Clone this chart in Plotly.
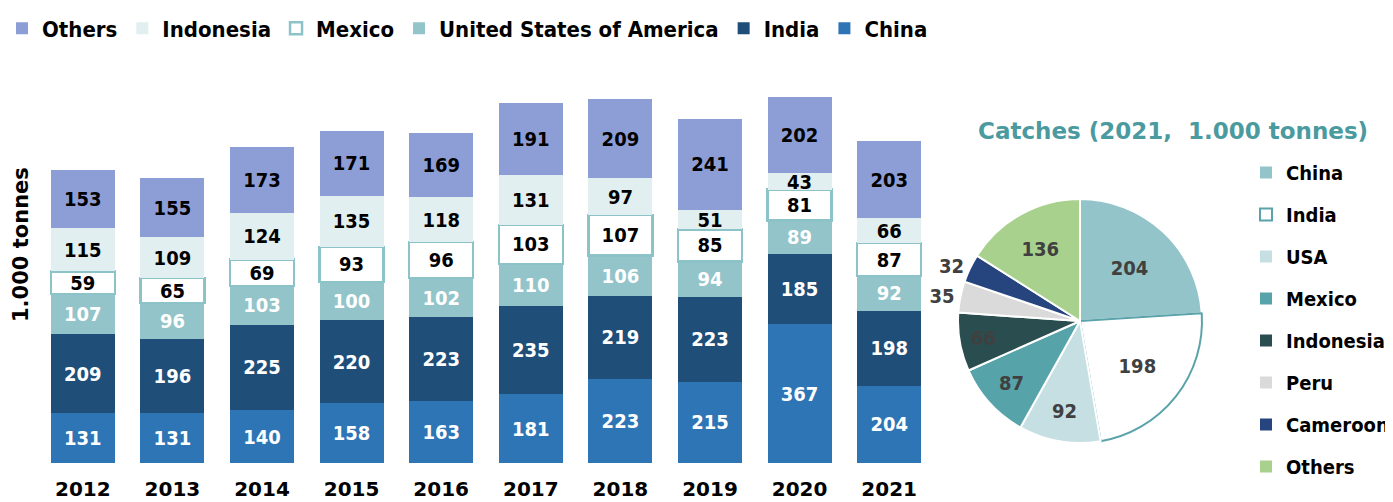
import plotly.graph_objects as go

years = ["2012", "2013", "2014", "2015", "2016", "2017", "2018", "2019", "2020", "2021"]
china = [131, 131, 140, 158, 163, 181, 223, 215, 367, 204]
india = [209, 196, 225, 220, 223, 235, 219, 223, 185, 198]
usa = [107, 96, 103, 100, 102, 110, 106, 94, 89, 92]
mexico = [59, 65, 69, 93, 96, 103, 107, 85, 81, 87]
indonesia = [115, 109, 124, 135, 118, 131, 97, 51, 43, 66]
others = [153, 155, 173, 171, 169, 191, 209, 241, 202, 203]

pie_labels = ["China", "India", "USA", "Mexico", "Indonesia", "Peru", "Cameroon", "Others"]
pie_values = [204, 198, 92, 87, 66, 35, 32, 136]

CFONT = "DejaVu Sans Condensed, DejaVu Sans"
FONT = "DejaVu Sans"

# page body offsets the figure by 8px; work in reference pixel coordinates
OFF = 8
W, H = 1393 - OFF, 502 - OFF


def px(x):
    return (x - OFF) / W


def py(y):
    return 1 - (y - OFF) / H


bar_series = [
    ("China", china, "#2E75B6", "white", None),
    ("India", india, "#1F4E79", "white", None),
    ("United States of America", usa, "#93C4C9", "white", None),
    ("Mexico", mexico, "white", "black", "#8CC3C8"),
    ("Indonesia", indonesia, "#E2EFF0", "black", None),
    ("Others", others, "#8D9ED6", "black", None),
]

fig = go.Figure()
for name, vals, col, tcol, lcol in bar_series:
    fig.add_trace(go.Bar(
        x=years, y=vals, name=name,
        marker=dict(color=col, line=dict(color=lcol if lcol else col, width=2.5 if lcol else 0)),
        text=[str(v) for v in vals], textposition="inside", insidetextanchor="middle",
        textangle=0, constraintext="none",
        textfont=dict(color=tcol, size=20, family=CFONT, weight="bold"),
        legend="legend",
    ))

pie_colors = ["#93C4C9", "white", "#C5DFE2", "#57A3AA", "#2A4D50", "#DADADA", "#26457F", "#A9D18E"]
pie_line_colors = ["white", "#5BA3AB", "white", "white", "white", "white", "white", "white"]
pie_textpos = ["inside", "inside", "inside", "inside", "inside", "outside", "outside", "inside"]

fig.add_trace(go.Pie(
    labels=pie_labels, values=pie_values, sort=False, direction="clockwise", rotation=0,
    marker=dict(colors=pie_colors, line=dict(color=pie_line_colors, width=2)),
    textinfo="value", textposition=pie_textpos, insidetextorientation="horizontal",
    textfont=dict(color="#404040", size=20, family=CFONT, weight="bold"),
    outsidetextfont=dict(color="#404040", size=20, family=CFONT, weight="bold"),
    domain=dict(x=[px(958), px(1202)], y=[py(443), py(199)]),
    showlegend=False,
))

# legend entries for the pie (spaced like the reference)
for lab, col, lcol in zip(pie_labels, pie_colors, pie_line_colors):
    fig.add_trace(go.Scatter(
        x=[None], y=[None], mode="markers", name=lab, legendgroup=lab,
        marker=dict(symbol="square", size=12, color=col,
                    line=dict(color=lcol if lcol != "white" else col, width=2 if lcol != "white" else 0)),
        legend="legend2", showlegend=True, hoverinfo="skip",
    ))

fig.update_layout(
    width=W, height=H,
    margin=dict(l=0, r=0, t=0, b=0, autoexpand=False),
    paper_bgcolor="white", plot_bgcolor="white",
    barmode="stack", bargap=0.286,
    uniformtext=dict(minsize=20, mode="show"),
    font=dict(family=CFONT, color="black"),
    xaxis=dict(domain=[px(38), px(934)], showgrid=False, showline=False, zeroline=False,
               ticks="outside", ticklen=8, tickcolor="rgba(0,0,0,0)",
               tickfont=dict(size=20, family=FONT, color="black", weight="bold")),
    yaxis=dict(domain=[py(463), py(463 - 378.6)], range=[0, 1000], showgrid=False, showline=False,
               zeroline=False, showticklabels=False, ticks=""),
    legend=dict(orientation="h", x=px(2), y=1.001, xanchor="left", yanchor="top",
                traceorder="reversed",
                font=dict(size=22, family=CFONT, color="black", weight="bold"),
                bgcolor="rgba(0,0,0,0)"),
    legend2=dict(orientation="v", x=px(1246), y=py(153), xanchor="left", yanchor="top",
                 font=dict(size=20, family=CFONT, color="black", weight="bold"),
                 tracegroupgap=13, bgcolor="rgba(0,0,0,0)"),
    annotations=[
        dict(text="1.000 tonnes", x=px(21), y=py(245), xref="paper", yref="paper",
             textangle=-90, showarrow=False, xanchor="center", yanchor="middle",
             font=dict(size=21, family=FONT, color="black", weight="bold")),
        dict(text="Catches (2021,  1.000 tonnes)", x=px(1173), y=py(131),
             xref="paper", yref="paper", showarrow=False, xanchor="center", yanchor="middle",
             font=dict(size=23, family=FONT, color="#4A9AA0", weight="bold")),
    ],
)

fig.write_html("out.html")
